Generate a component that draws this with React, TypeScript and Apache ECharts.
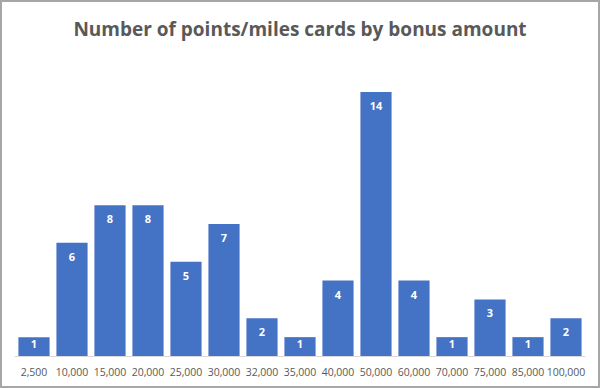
import React, { useEffect, useRef } from "react";
import * as echarts from "echarts";

const categories = ["2,500", "10,000", "15,000", "20,000", "25,000", "30,000", "32,000", "35,000", "40,000", "50,000", "60,000", "70,000", "75,000", "85,000", "100,000"];
const counts = [1, 6, 8, 8, 5, 7, 2, 1, 4, 14, 4, 1, 3, 1, 2];
const titleText = "Number of points/miles cards by bonus amount";

export default function App() {
  const ref = useRef<HTMLDivElement>(null);
  useEffect(() => {
    document.body.style.margin = "0";
    const chart = echarts.init(ref.current!, null, { renderer: "svg" });
    chart.setOption({
      animation: false,
      backgroundColor: "#ffffff",
      title: {
        text: titleText,
        left: "center",
        top: 14,
        textStyle: { fontFamily: "Open Sans", fontWeight: 700, fontSize: 19, color: "#595959" },
      },
      graphic: [
        {
          type: "rect",
          shape: { x: 1, y: 1, width: 598, height: 386 },
          style: { fill: "none", stroke: "#a6a6a6", lineWidth: 2 },
          silent: true,
        },
      ],
      grid: { left: 15, right: 15, top: 92, bottom: 32 },
      xAxis: {
        type: "category",
        data: categories,
        axisLine: { lineStyle: { color: "#d9d9d9" } },
        axisTick: { show: false },
        axisLabel: { color: "#595959", fontSize: 10.5, fontFamily: "Open Sans", margin: 10, interval: 0 },
      },
      yAxis: { type: "value", min: 0, max: 14, show: false, splitLine: { show: false } },
      series: [
        {
          type: "bar",
          data: counts.map((v) => (v <= 1 ? { value: v, label: { distance: 1 } } : v)),
          barCategoryGap: "18%",
          itemStyle: { color: "#4472C4" },
          label: {
            show: true,
            position: "insideTop",
            distance: 8,
            color: "#ffffff",
            fontWeight: "bold",
            fontSize: 11,
            fontFamily: "Open Sans",
          },
        },
      ],
    });
    return () => chart.dispose();
  }, []);
  return <div ref={ref} style={{ width: 600, height: 388 }} />;
}
